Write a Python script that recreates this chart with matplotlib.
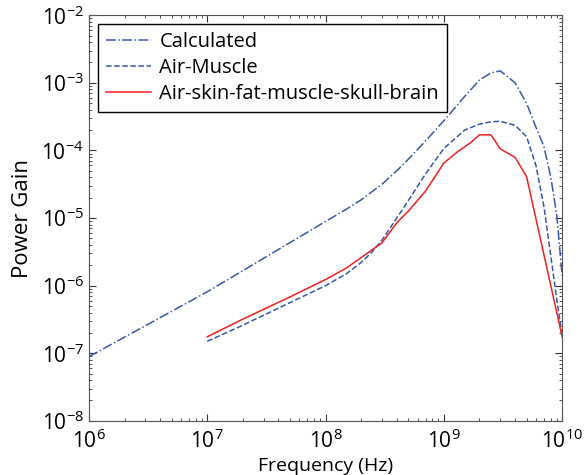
import matplotlib
matplotlib.use('Agg')
import matplotlib.pyplot as plt

# frequency grid (Hz) and power gain values
freq_calc = [1e6, 1e7, 1e8, 1.5e8, 2e8, 3e8, 4e8, 5e8, 7e8, 1e9, 1.5e9, 2e9,
             2.5e9, 3e9, 4e9, 5e9, 6e9, 7e9, 8e9, 9e9, 1e10]
gain_calc = [8.9e-8, 8.1e-7, 8.9e-6, 1.35e-5, 1.86e-5, 3.16e-5, 5.0e-5, 7.4e-5,
             1.38e-4, 2.75e-4, 6.3e-4, 1.1e-3, 1.4e-3, 1.5e-3, 1.0e-3, 5.0e-4,
             2.2e-4, 1.15e-4, 4.1e-5, 1.1e-5, 1.4e-6]

freq_muscle = [1e7, 2e7, 5e7, 1e8, 1.5e8, 2e8, 2.5e8, 3e8, 4e8, 5e8, 7e8, 1e9,
               1.5e9, 2e9, 2.5e9, 3e9, 4e9, 5e9, 6e9, 7e9, 8e9, 9e9, 1e10]
gain_muscle = [1.5e-7, 2.6e-7, 5.6e-7, 1.0e-6, 1.5e-6, 2.2e-6, 3.2e-6, 4.7e-6,
               1.0e-5, 1.8e-5, 4.5e-5, 1.07e-4, 2.0e-4, 2.45e-4, 2.65e-4,
               2.7e-4, 2.35e-4, 1.6e-4, 6.0e-5, 1.5e-5, 2.8e-6, 6.3e-7, 1.8e-7]

freq_brain = [1e7, 2e7, 5e7, 1e8, 1.5e8, 2e8, 3e8, 4e8, 5e8, 7e8, 1e9, 1.3e9,
              1.7e9, 2e9, 2.5e9, 3e9, 4e9, 5e9, 1e10]
gain_brain = [1.75e-7, 3.2e-7, 6.8e-7, 1.23e-6, 1.82e-6, 2.6e-6, 4.3e-6, 8.5e-6,
              1.26e-5, 2.5e-5, 6.5e-5, 9.5e-5, 1.32e-4, 1.7e-4, 1.7e-4,
              1.05e-4, 7.9e-5, 4.1e-5, 1.75e-7]

plt.rcParams['font.family'] = ['Open Sans', 'DejaVu Sans']
plt.rcParams['mathtext.default'] = 'regular'

fig = plt.figure(figsize=(5.85, 4.75), dpi=100)
ax = fig.add_axes([0.152, 0.114, 0.809, 0.854])

blue = '#3a58a8'
ax.loglog(freq_calc, gain_calc, linestyle='-.', color=blue, lw=1.1, label='Calculated')
ax.loglog(freq_muscle, gain_muscle, linestyle='--', color=blue, lw=1.1, label='Air-Muscle')
ax.loglog(freq_brain, gain_brain, linestyle='-', color='#ee2020', lw=1.1,
          label='Air-skin-fat-muscle-skull-brain')

ax.set_xlim(1e6, 1e10)
ax.set_ylim(1e-8, 1e-2)
ax.set_xticks([1e6, 1e7, 1e8, 1e9, 1e10])
ax.set_yticks([1e-8, 1e-7, 1e-6, 1e-5, 1e-4, 1e-3, 1e-2])
ax.tick_params(which='both', direction='in', top=True, right=True, colors='#333333',
               labelcolor='black', labelsize=15)
ax.tick_params(which='major', length=5)
ax.tick_params(which='minor', length=2.5)
ax.tick_params(axis='x', which='major', pad=6)
for sp in ax.spines.values():
    sp.set_color('#555555')

ax.set_xlabel('Frequency (Hz)', fontsize=14, labelpad=3)
ax.set_ylabel('Power Gain', fontsize=16, labelpad=6)

leg = ax.legend(loc='upper left', fontsize=14.5, frameon=True, fancybox=False,
                edgecolor='black', framealpha=1, borderpad=0.4, labelspacing=0.28,
                handlelength=2.25, handletextpad=0.4, borderaxespad=0.45)
leg.get_frame().set_linewidth(1.0)

plt.savefig('out.png', dpi=100)
